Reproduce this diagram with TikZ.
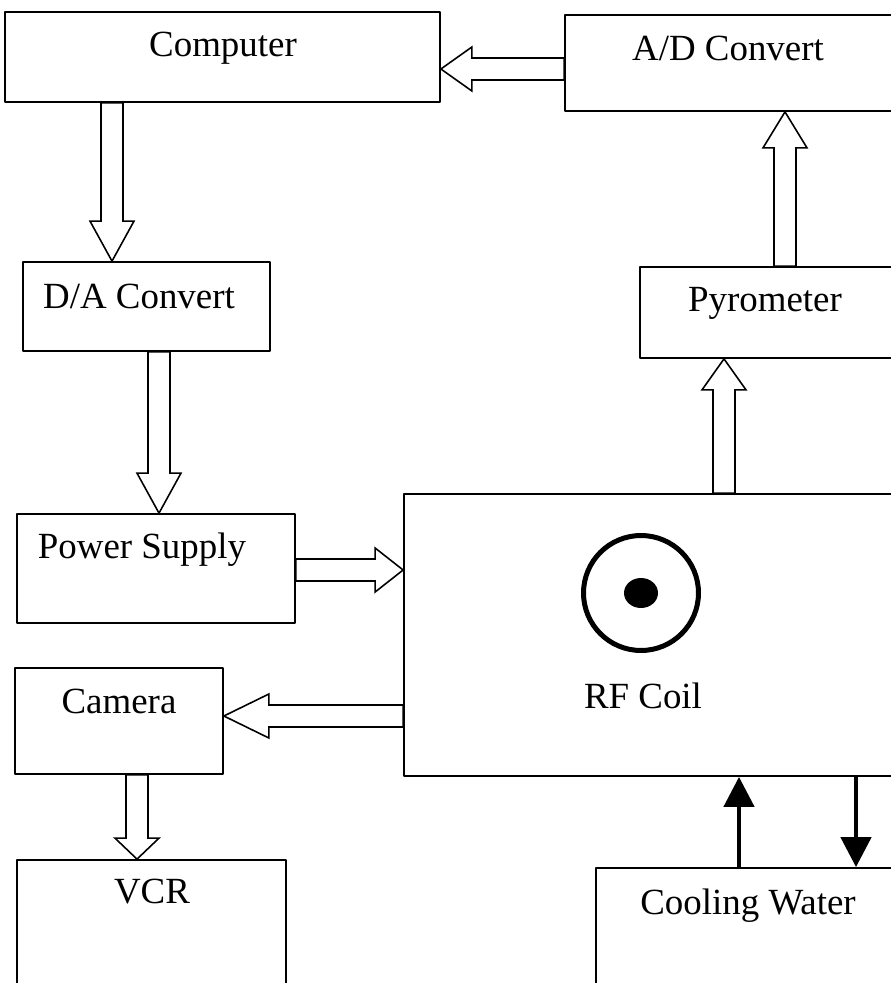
\documentclass[tikz,border=0pt]{standalone}
\usepackage{fontspec}
\setmainfont{Liberation Serif}
\usetikzlibrary{calc,fit,arrows.meta}
\tikzset{
	box/.style={draw, line width=1pt, inner sep=0pt},
	blockarrow/.style={draw, fill=white, line width=.9pt, line join=miter,
		to path={($(\tikztostart)!.22cm!90:(\tikztotarget)$)
			-- ($(\tikztotarget)!#1!(\tikztostart)!.22cm!90:(\tikztotarget)$)
			-- ($(\tikztotarget)!#1!(\tikztostart)!.44cm!90:(\tikztotarget)$)
			-- (\tikztotarget)
			-- ($(\tikztotarget)!#1!(\tikztostart)!.44cm!-90:(\tikztotarget)$)
			-- ($(\tikztotarget)!#1!(\tikztostart)!.22cm!-90:(\tikztotarget)$)
			-- ($(\tikztostart)!.22cm!-90:(\tikztotarget)$) -- cycle}},
	blockarrow/.default=.7cm,
	water/.style={line width=2.6pt, -{Triangle[length=.6cm, width=.6cm]}}
}
\begin{document}
\begin{tikzpicture}[x=.02cm, y=-.02cm, font=\fontsize{21}{25}\selectfont, line join=round]
	\useasboundingbox (0,0) rectangle (891,983);
	\clip (0,0) rectangle (891,983);
	% boxes, the ones on the right and at the bottom run off the page
	\foreach \n/\xa/\ya/\xb/\yb in {Comp/5/12/440/102, AD/565/15/1000/111, DA/23/262/270/351,
		Pyro/640/267/1000/358, PS/17/514/295/623, RF/404/494/1000/776,
		Cam/15/668/223/774, VCR/17/860/286/1100, CW/596/868/1000/1100}
	\node[box, fit={(\xa,\ya) (\xb,\yb)}] (\n) {};
	\foreach \n/\x/\y/\t in {Comp/223/57/Computer, AD/728/61/{A/D Convert}, DA/139/308/{D/A Convert},
		Pyro/765/311/Pyrometer, PS/142/558/Power Supply, RF/643/708/RF Coil,
		Cam/119/713/Camera, VCR/152/903/VCR, CW/748/914/Cooling Water}
	\node[anchor=base] (\n-t) at (\x,\y) {\t};
	% coil symbol
	\node[circle, draw, line width=.1cm, minimum size=2.3cm, inner sep=0pt] (coil) at (641,593) {};
	\fill (coil.center) ellipse (.34cm and .3cm);
	% signal flow
	\draw[blockarrow=.62cm] (AD.west |- 0,69) to (Comp.east |- 0,69);
	\draw[blockarrow=.8cm] (Comp.south -| 112,0) to (DA.north -| 112,0);
	\draw[blockarrow=.8cm] (DA.south -| 159,0) to (PS.north -| 159,0);
	\draw[blockarrow=.56cm] (PS.east |- 0,570) to (RF.west |- 0,570);
	\draw[blockarrow=.9cm] (RF.west |- 0,716) to (Cam.east |- 0,716);
	\draw[blockarrow=.42cm] (Cam.south -| 137,0) to (VCR.north -| 137,0);
	\draw[blockarrow=.62cm] (RF.north -| 724,0) to (Pyro.south -| 724,0);
	\draw[blockarrow=.72cm] (Pyro.north -| 785,0) to (AD.south -| 785,0);
	% cooling water in and out
	\draw[water] (CW.north -| 739,0) -- (RF.south -| 739,0);
	\draw[water] (RF.south -| 856,0) -- (CW.north -| 856,0);
\end{tikzpicture}
\end{document}
